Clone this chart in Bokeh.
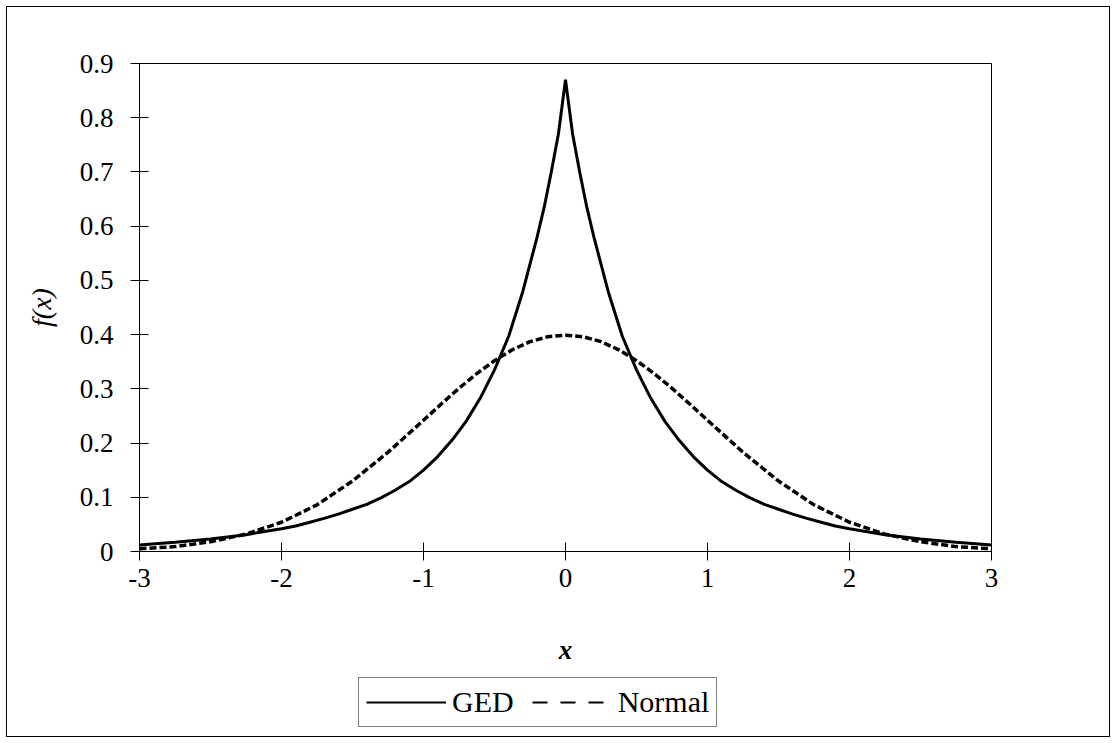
from bokeh.plotting import figure
from bokeh.layouts import column
from bokeh.models import (FixedTicker, Legend, LegendItem, ColumnDataSource)
from bokeh.embed import file_html
from bokeh.resources import INLINE

# ---- data ----
ged_x = [-3.0, -2.75, -2.5, -2.25, -2.0, -1.9, -1.8, -1.7, -1.6, -1.5, -1.4, -1.3, -1.2, -1.1, -1.0,
         -0.9, -0.8, -0.7, -0.6, -0.5, -0.4, -0.3, -0.2, -0.15, -0.1, -0.05, -0.02, 0.0,
         0.02, 0.05, 0.1, 0.15, 0.2, 0.3, 0.4, 0.5, 0.6, 0.7, 0.8, 0.9,
         1.0, 1.1, 1.2, 1.3, 1.4, 1.5, 1.6, 1.7, 1.8, 1.9, 2.0, 2.25, 2.5, 2.75, 3.0]
ged_y = [0.012, 0.017, 0.023, 0.031, 0.042, 0.047, 0.054, 0.061, 0.069, 0.078, 0.087, 0.099, 0.113, 0.129, 0.150,
         0.175, 0.205, 0.240, 0.283, 0.335, 0.397, 0.480, 0.580, 0.635, 0.700, 0.770, 0.830, 0.870,
         0.830, 0.770, 0.700, 0.635, 0.580, 0.480, 0.397, 0.335, 0.283, 0.240, 0.205, 0.175,
         0.150, 0.129, 0.113, 0.099, 0.087, 0.078, 0.069, 0.061, 0.054, 0.047, 0.042, 0.031, 0.023, 0.017, 0.012]

normal_x = [-3.0, -2.75, -2.5, -2.25, -2.0, -1.75, -1.5, -1.25, -1.0, -0.875, -0.75, -0.625, -0.5,
            -0.375, -0.25, -0.125, 0.0, 0.125, 0.25, 0.375, 0.5, 0.625, 0.75, 0.875,
            1.0, 1.25, 1.5, 1.75, 2.0, 2.25, 2.5, 2.75, 3.0]
normal_y = [0.005, 0.009, 0.018, 0.032, 0.054, 0.086, 0.130, 0.183, 0.242, 0.272, 0.301, 0.328, 0.352,
            0.372, 0.387, 0.396, 0.399, 0.396, 0.387, 0.372, 0.352, 0.328, 0.301, 0.272,
            0.242, 0.183, 0.130, 0.086, 0.054, 0.032, 0.018, 0.009, 0.005]

x_ticks = [-3, -2, -1, 0, 1, 2, 3]
x_tick_labels = ["-3", "-2", "-1", "0", "1", "2", "3"]
y_ticks = [0, 0.1, 0.2, 0.3, 0.4, 0.5, 0.6, 0.7, 0.8, 0.9]
y_tick_labels = ["0", "0.1", "0.2", "0.3", "0.4", "0.5", "0.6", "0.7", "0.8", "0.9"]

series_names = ["GED", "Normal"]
x_title = "x"
y_title = "f(x)"

FONT = "Liberation Serif"

W = 1102
H_MAIN = 667
H_LEG = 62

p = figure(width=W, height=H_MAIN, output_backend="svg", toolbar_location=None,
           x_range=(-3, 3), y_range=(0, 0.9),
           min_border_left=132, min_border_right=118, min_border_top=56, min_border_bottom=123)
p.background_fill_color = "white"
p.border_fill_color = "white"
p.outline_line_color = "black"
p.outline_line_width = 1
p.grid.visible = False

# axes
for ax in (p.xaxis[0], p.yaxis[0]):
    ax.axis_line_color = "black"
    ax.axis_line_width = 1
    ax.major_tick_line_color = "black"
    ax.major_tick_in = 9
    ax.major_tick_out = 9
    ax.minor_tick_line_color = None
    ax.major_label_text_font = FONT
    ax.major_label_text_font_size = "27px"
    ax.major_label_text_color = "black"
    ax.axis_label_text_font = FONT
    ax.axis_label_text_color = "black"

p.xaxis[0].ticker = FixedTicker(ticks=x_ticks)
p.xaxis[0].major_label_overrides = {t: l for t, l in zip(x_ticks, x_tick_labels)}
p.yaxis[0].ticker = FixedTicker(ticks=y_ticks)
p.yaxis[0].major_label_overrides = {t: l for t, l in zip(y_ticks, y_tick_labels)}

p.xaxis[0].axis_label = x_title
p.xaxis[0].axis_label_text_font_style = "bold italic"
p.xaxis[0].axis_label_text_font_size = "27px"
p.xaxis[0].major_label_standoff = 8
p.xaxis[0].axis_label_standoff = 45
p.yaxis[0].axis_label = y_title
p.yaxis[0].axis_label_text_font_style = "italic"
p.yaxis[0].axis_label_text_font_size = "28px"
p.yaxis[0].major_label_standoff = 17
p.yaxis[0].axis_label_standoff = 20

# series
src_n = ColumnDataSource(dict(x=normal_x, y=normal_y))
src_g = ColumnDataSource(dict(x=ged_x, y=ged_y))
p.line("x", "y", source=src_n, line_color="black", line_width=3.5, line_dash="7 3")
p.line("x", "y", source=src_g, line_color="black", line_width=3)

# ---- legend strip below the plot (inside the chart border) ----
lf = figure(width=W, height=H_LEG, output_backend="svg", toolbar_location=None,
            x_range=(0, 1), y_range=(0, 1), x_axis_type=None, y_axis_type=None,
            min_border=0)
lf.outline_line_color = None
lf.grid.visible = False
lf.background_fill_color = "white"
lf.border_fill_color = "white"
nan = float("nan")
key_g = ColumnDataSource(dict(x=[nan], y=[nan]))
key_n = ColumnDataSource(dict(x=[nan], y=[nan]))
lg_g = lf.line("x", "y", source=key_g, line_color="black", line_width=2)
lg_n = lf.line("x", "y", source=key_n, line_color="black", line_width=2,
               line_dash="15 13 15 13 15 9")

legend = Legend(items=[LegendItem(label=series_names[0], renderers=[lg_g]),
                       LegendItem(label=series_names[1], renderers=[lg_n])],
                orientation="horizontal", location=(219, 9),
                label_text_font=FONT, label_text_font_size="30px", label_text_color="black",
                glyph_width=80, glyph_height=30, label_standoff=6, spacing=18,
                padding=7, margin=0,
                border_line_color="black", border_line_width=1,
                background_fill_color="white", background_fill_alpha=1)
lf.add_layout(legend, "center")

layout = column(p, lf, spacing=0,
                styles={"border": "1px solid black", "margin-left": "6px", "margin-top": "6px"})

open("out.html", "w").write(file_html(layout, INLINE))
